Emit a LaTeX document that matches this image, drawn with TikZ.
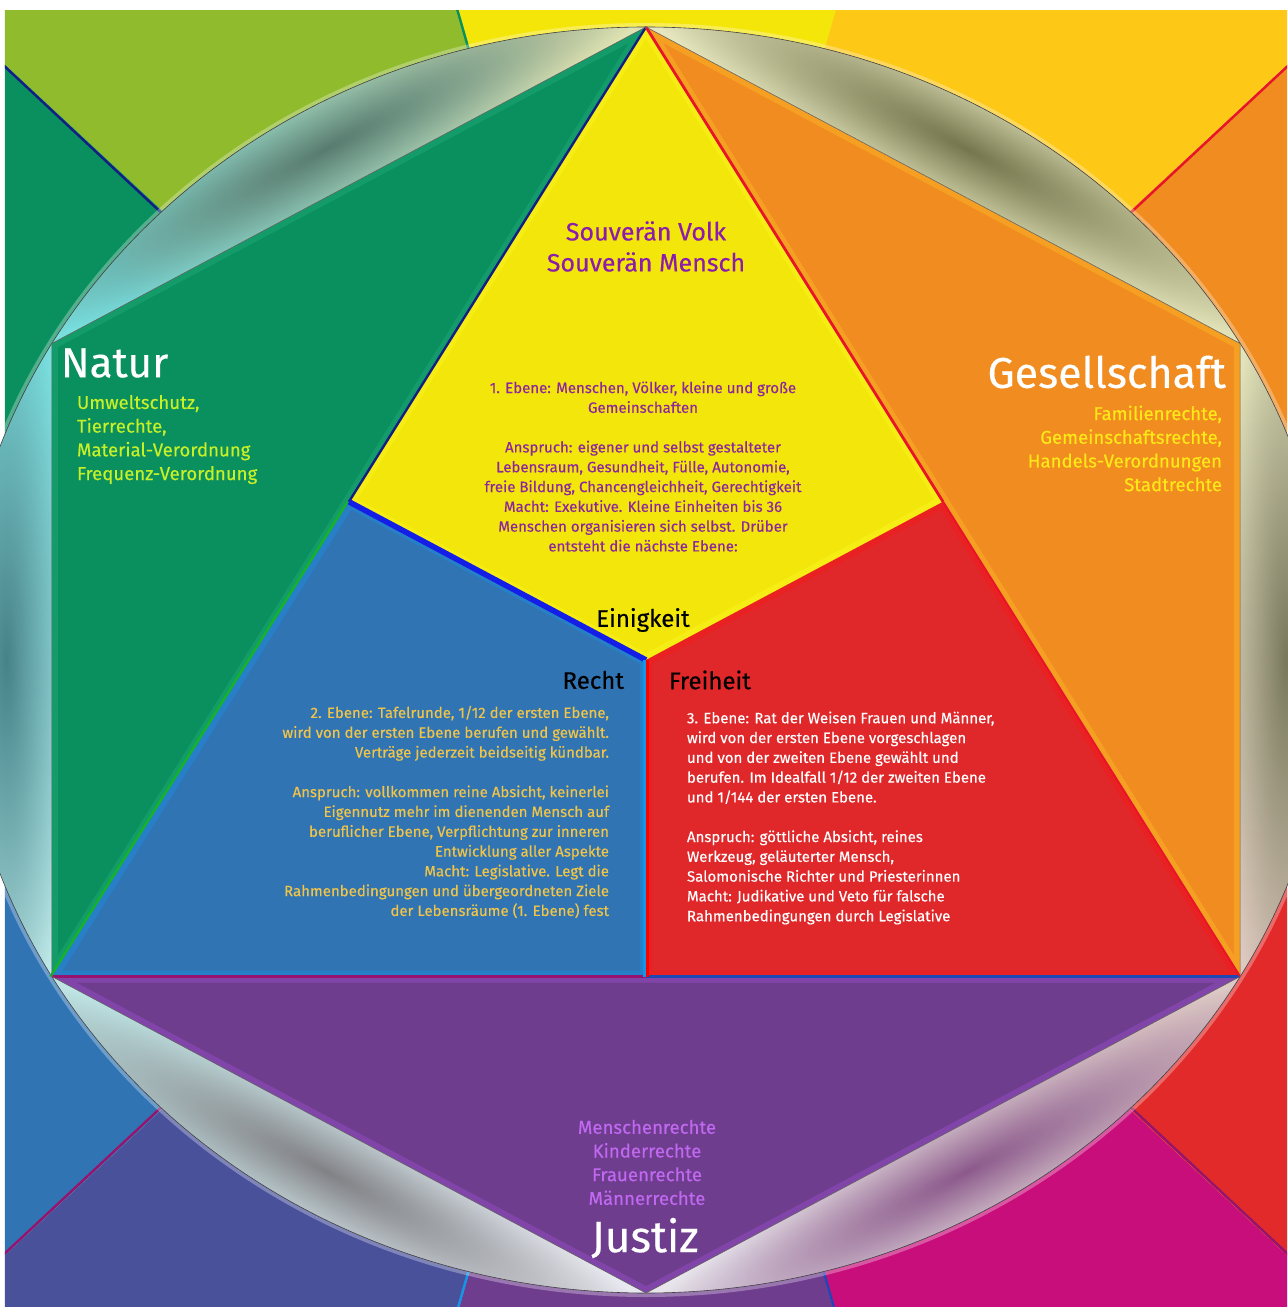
\documentclass[tikz,border=0pt]{standalone}
\usepackage{fontspec}
\setmainfont{Fira Sans}[FakeBold=0.35]
\usetikzlibrary{fadings}

% wheel and field colours
\definecolor{kiteyellow}{RGB}{242,230,10}
\definecolor{naturgreen}{RGB}{10,143,94}
\definecolor{gesorange}{RGB}{240,140,32}
\definecolor{rechtblue}{RGB}{48,116,180}
\definecolor{freired}{RGB}{224,40,42}
\definecolor{justizpurple}{RGB}{111,61,142}
\definecolor{wheelgolden}{RGB}{253,200,22}
\definecolor{wheelyellow}{RGB}{245,230,10}
\definecolor{wheellime}{RGB}{143,187,44}
\definecolor{wheelviolet}{RGB}{74,81,155}
\definecolor{wheelmagenta}{RGB}{200,14,122}
\definecolor{wheelred}{RGB}{226,42,42}
% glow of the fields
\definecolor{glowgreen}{RGB}{40,180,130}
\definecolor{gloworange}{RGB}{255,200,40}
\definecolor{glowyellow}{RGB}{255,252,40}
\definecolor{glowblue}{RGB}{20,150,235}
\definecolor{glowred}{RGB}{255,20,20}
\definecolor{glowpurple}{RGB}{165,85,225}
% lens colours (end a, end b, dark middle)
\definecolor{lensTLa}{RGB}{222,226,178}
\definecolor{lensTLb}{RGB}{120,222,222}
\definecolor{lensTLd}{RGB}{88,124,112}
\definecolor{lensTRa}{RGB}{226,226,184}
\definecolor{lensTRb}{RGB}{230,230,190}
\definecolor{lensTRd}{RGB}{118,118,78}
\definecolor{lensRa}{RGB}{222,200,192}
\definecolor{lensRb}{RGB}{226,228,186}
\definecolor{lensRd}{RGB}{120,120,92}
\definecolor{lensBRa}{RGB}{232,230,236}
\definecolor{lensBRb}{RGB}{220,200,196}
\definecolor{lensBRd}{RGB}{140,90,140}
\definecolor{lensBLa}{RGB}{190,228,228}
\definecolor{lensBLb}{RGB}{232,232,240}
\definecolor{lensBLd}{RGB}{130,130,134}
\definecolor{lensLa}{RGB}{120,222,222}
\definecolor{lensLb}{RGB}{190,230,230}
\definecolor{lensLd}{RGB}{70,130,136}
% edge colours
\definecolor{edgenavy}{RGB}{20,30,130}
\definecolor{edgered}{RGB}{232,20,40}
\definecolor{edgeblue}{RGB}{20,30,230}
\definecolor{edgecyan}{RGB}{20,150,230}
\definecolor{edgegreen}{RGB}{20,180,40}
\definecolor{edgeplum}{RGB}{150,20,110}
\definecolor{edgedeep}{RGB}{30,70,180}
% text colours
\definecolor{souvtext}{RGB}{140,28,172}
\definecolor{ebenetext}{RGB}{142,38,158}
\definecolor{naturtext}{RGB}{198,240,40}
\definecolor{gestext}{RGB}{255,232,24}
\definecolor{rechttext}{RGB}{240,196,72}
\definecolor{justiztext}{RGB}{192,104,240}

\tikzfading[name=lensfade, inner color=transparent!0, outer color=transparent!100]

\begin{document}
\begin{tikzpicture}
  [x=0.5pt,y=0.5pt,
   every node/.style={inner sep=0pt,outer sep=0pt},
   head/.style={font=\fontsize{21}{25}\selectfont,text=white},
   small/.style={font=\fontsize{7.5}{9.9}\selectfont},
   list/.style={font=\fontsize{9.3}{11.85}\selectfont},
   middle/.style={font=\fontsize{12}{14}\selectfont,text=black},
   bevel/.style={draw=#1,line width=6pt,draw opacity=.35}]
  \useasboundingbox (-646,660) rectangle (641,-647);
  \fill[white] (-646,660) rectangle (641,-647);

  \coordinate (T) at (90:686 and 633);
  \coordinate (UR) at (30:686 and 633);
  \coordinate (LR) at (-30:686 and 633);
  \coordinate (B) at (-90:686 and 633);
  \coordinate (LL) at (-150:686 and 633);
  \coordinate (UL) at (150:686 and 633);
  \coordinate (O) at (0,0);
  \coordinate (L1) at (150:343 and 316.5);
  \coordinate (R1) at (30:343 and 316.5);
  \coordinate (Bm) at (-90:343 and 316.5);

  % colour wheel behind the circle
  \begin{scope}
    \clip (-641,649) rectangle (641,-647);
    \foreach \from/\to/\col in {0/45/gesorange,45/75/wheelgolden,75/105/wheelyellow,
        105/135/wheellime,135/180/naturgreen,180/225/rechtblue,225/255/wheelviolet,
        255/285/justizpurple,285/315/wheelmagenta,315/360/wheelred}
      \fill[\col] (0,0) -- (\from:1400 and 1300) -- ({(\from+\to)/2}:1400 and 1300)
        -- (\to:1400 and 1300) -- cycle;
    \foreach \at/\col in {45/edgered,75/kiteyellow,105/naturgreen,135/edgenavy,
        225/edgeplum,255/edgecyan,285/edgedeep,315/edgeplum}
      \draw[\col,line width=1.2pt] (\at:686 and 633) -- (\at:1400 and 1300);
    \draw[white,line width=4pt,draw opacity=.3] (0,0) ellipse (686 and 633);
  \end{scope}

  % the six lenses between circle and hexagon
  \foreach \from/\to/\ca/\cb/\cd in {90/150/lensTLa/lensTLb/lensTLd,
      30/90/lensTRa/lensTRb/lensTRd,-30/30/lensRa/lensRb/lensRd,
      -90/-30/lensBRa/lensBRb/lensBRd,-150/-90/lensBLa/lensBLb/lensBLd,
      150/210/lensLa/lensLb/lensLd}{
    \pgfmathsetmacro{\lensmid}{(\from+\to)/2}
    \pgfmathsetmacro{\lensrot}{atan2(633*cos(\lensmid),-686*sin(\lensmid))}
    \pgfmathsetmacro{\lensshade}{\lensrot-90}
    \begin{scope}
      \clip (\from:686 and 633) arc[start angle=\from,end angle=\to,x radius=686,y radius=633] -- cycle;
      \shade[bottom color=\ca,top color=\cb,shading angle=\lensshade]
        (\from:686 and 633) arc[start angle=\from,end angle=\to,x radius=686,y radius=633] -- cycle;
      \fill[\cd,path fading=lensfade,
        transform canvas={shift={(\lensmid:640 and 590.6)},rotate=\lensrot}]
        (0,0) ellipse (390 and 66);
    \end{scope}
  }
  \draw[black!75,line width=.3pt] (0,0) ellipse (686 and 633);

  % the six fields
  \fill[naturgreen] (T) -- (UL) -- (LL) -- (L1) -- cycle;
  \fill[gesorange] (T) -- (UR) -- (LR) -- (R1) -- cycle;
  \fill[kiteyellow] (T) -- (L1) -- (O) -- (R1) -- cycle;
  \fill[rechtblue] (L1) -- (O) -- (Bm) -- (LL) -- cycle;
  \fill[freired] (R1) -- (LR) -- (Bm) -- (O) -- cycle;
  \fill[justizpurple] (LL) -- (LR) -- (B) -- cycle;

  \begin{scope}
    \clip (T) -- (UL) -- (LL) -- (L1) -- cycle;
    \draw[bevel=glowgreen] (T) -- (UL) -- (LL) -- (L1) -- cycle;
  \end{scope}
  \begin{scope}
    \clip (T) -- (UR) -- (LR) -- (R1) -- cycle;
    \draw[bevel=gloworange] (T) -- (UR) -- (LR) -- (R1) -- cycle;
  \end{scope}
  \begin{scope}
    \clip (T) -- (L1) -- (O) -- (R1) -- cycle;
    \draw[bevel=glowyellow] (T) -- (L1) -- (O) -- (R1) -- cycle;
  \end{scope}
  \begin{scope}
    \clip (L1) -- (O) -- (Bm) -- (LL) -- cycle;
    \draw[bevel=glowblue] (L1) -- (O) -- (Bm) -- (LL) -- cycle;
  \end{scope}
  \begin{scope}
    \clip (R1) -- (LR) -- (Bm) -- (O) -- cycle;
    \draw[bevel=glowred] (R1) -- (LR) -- (Bm) -- (O) -- cycle;
  \end{scope}
  \begin{scope}
    \clip (LL) -- (LR) -- (B) -- cycle;
    \draw[bevel=glowpurple] (LL) -- (LR) -- (B) -- cycle;
  \end{scope}

  % edges between the fields
  \foreach \from/\to/\col/\wd in {T/L1/edgenavy/1.2pt,T/R1/edgered/1.4pt,L1/O/edgeblue/2.8pt,
      LL/Bm/edgeplum/1.2pt,Bm/LR/edgedeep/1.6pt,R1/LR/edgered/1pt}
    \draw[\col,line width=\wd] (\from) -- (\to);
  \draw[edgecyan,line width=1.5pt] ([xshift=-.8pt]O) -- ([xshift=-.8pt]Bm);
  \draw[red,line width=1.5pt] ([xshift=.8pt]O) -- ([xshift=.8pt]Bm);
  \draw[edgegreen,line width=1.2pt] ([xshift=-.7pt]LL) -- ([xshift=-.7pt]L1);
  \draw[black!60,line width=.3pt] (T) -- (UR) -- (LR) -- (B) -- (LL) -- (UL) -- cycle;

  % texts
  \node[font=\fontsize{12.5}{15.5}\selectfont,text=souvtext,align=center] (souv) at (0,413.5)
    {Souverän Volk\\Souverän Mensch};
  \node[small,text=ebenetext,align=center] (ebene1) at (-3,193.5)
    {1. Ebene: Menschen, Völker, kleine und große\\Gemeinschaften\\[9.9pt]
     Anspruch: eigener und selbst gestalteter\\Lebensraum, Gesundheit, Fülle, Autonomie,\\
     freie Bildung, Chancengleichheit, Gerechtigkeit\\Macht: Exekutive. Kleine Einheiten bis 36\\
     Menschen organisieren sich selbst. Drüber\\entsteht die nächste Ebene:};
  \node[head,anchor=west] (natur) at (-585,297) {Natur};
  \node[list,text=naturtext,align=left,anchor=west] (naturlist) at (-569,220.5)
    {Umweltschutz,\\Tierrechte,\\Material-Verordnung\\Frequenz-Verordnung};
  \node[head,font=\fontsize{21.5}{26}\selectfont,anchor=east] (ges) at (580,288) {Gesellschaft};
  \node[list,text=gestext,align=right,anchor=east] (geslist) at (576,211.5)
    {Familienrechte,\\Gemeinschaftsrechte,\\Handels-Verordnungen\\Stadtrechte};
  \node[middle] (einig) at (-3,40) {Einigkeit};
  \node[middle,anchor=east] (recht) at (-22,-20) {Recht};
  \node[middle,anchor=west] (frei) at (23,-20) {Freiheit};
  \node[small,text=rechttext,align=right,anchor=east] (ebene2) at (-37,-152)
    {2. Ebene: Tafelrunde, 1/12 der ersten Ebene,\\wird von der ersten Ebene berufen und gewählt.\\
     Verträge jederzeit beidseitig kündbar.\\[9.9pt]
     Anspruch: vollkommen reine Absicht, keinerlei\\Eigennutz mehr im dienenden Mensch auf\\
     beruflicher Ebene, Verpflichtung zur inneren\\Entwicklung aller Aspekte\\
     Macht: Legislative. Legt die\\Rahmenbedingungen und übergeordneten Ziele\\
     der Lebensräume (1. Ebene) fest};
  \node[small,text=white,align=left,anchor=west] (ebene3) at (41,-158)
    {3. Ebene: Rat der Weisen Frauen und Männer,\\wird von der ersten Ebene vorgeschlagen\\
     und von der zweiten Ebene gewählt und\\berufen. Im Idealfall 1/12 der zweiten Ebene\\
     und 1/144 der ersten Ebene.\\[9.9pt]
     Anspruch: göttliche Absicht, reines\\Werkzeug, geläuterter Mensch,\\
     Salomonische Richter und Priesterinnen\\Macht: Judikative und Veto für falsche\\
     Rahmenbedingungen durch Legislative};
  \node[list,text=justiztext,align=center] (justizlist) at (1,-502.5)
    {Menschenrechte\\Kinderrechte\\Frauenrechte\\Männerrechte};
  \node[head,font=\fontsize{22}{26}\selectfont] (justiz) at (-1,-578) {Justiz};
\end{tikzpicture}
\end{document}
